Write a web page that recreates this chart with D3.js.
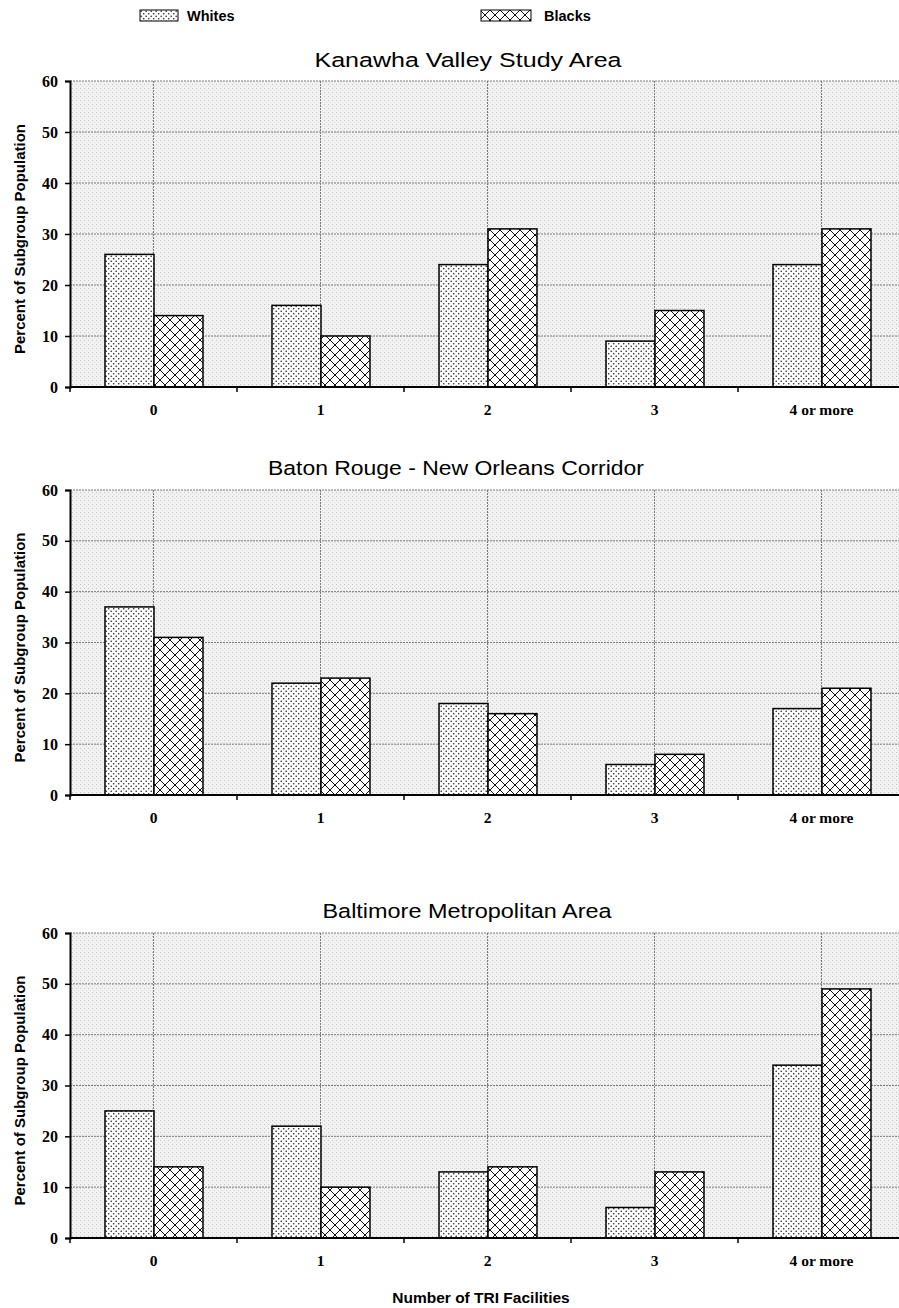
<!DOCTYPE html>
<html><head><meta charset="utf-8">
<script src="https://cdn.jsdelivr.net/npm/d3@7"></script>
<style>body{margin:0;background:#fff}svg{display:block}</style>
</head><body>
<script>
const categories = ["0","1","2","3","4 or more"];
const titles = ["Kanawha Valley Study Area","Baton Rouge - New Orleans Corridor","Baltimore Metropolitan Area"];
const whitesKanawha = [26,16,24,9,24];
const blacksKanawha = [14,10,31,15,31];
const whitesBaton = [37,22,18,6,17];
const blacksBaton = [31,23,16,8,21];
const whitesBaltimore = [25,22,13,6,34];
const blacksBaltimore = [14,10,14,13,49];
const yTicks = [0,10,20,30,40,50,60];
const seriesNames = ["Whites","Blacks"];

const panels = [
  {title: titles[0], w: whitesKanawha, b: blacksKanawha, top: 81, bottom: 387, titleY: 67, tx: 468, tl: 307},
  {title: titles[1], w: whitesBaton, b: blacksBaton, top: 490, bottom: 795, titleY: 475, tx: 456, tl: 376},
  {title: titles[2], w: whitesBaltimore, b: blacksBaltimore, top: 933, bottom: 1238, titleY: 918, tx: 467, tl: 289}
];

const W = 899, H = 1308;
const svg = d3.select("body").append("svg").attr("width", W).attr("height", H);
const defs = svg.append("defs");

const bg = defs.append("pattern").attr("id","bgp").attr("patternUnits","userSpaceOnUse").attr("width",4).attr("height",4);
bg.append("rect").attr("width",4).attr("height",4).attr("fill","#f2f2f2");
bg.append("rect").attr("x",0).attr("y",0).attr("width",1).attr("height",1).attr("fill","#c2c2c2");
bg.append("rect").attr("x",2).attr("y",2).attr("width",1).attr("height",1).attr("fill","#d8d8d8");

const pw = defs.append("pattern").attr("id","pw").attr("patternUnits","userSpaceOnUse").attr("width",5).attr("height",5);
pw.append("rect").attr("width",5).attr("height",5).attr("fill","#fff");
pw.append("circle").attr("cx",1.2).attr("cy",1.2).attr("r",0.8).attr("fill","#222");
pw.append("circle").attr("cx",3.7).attr("cy",3.7).attr("r",0.8).attr("fill","#222");

const pb = defs.append("pattern").attr("id","pb").attr("patternUnits","userSpaceOnUse").attr("width",10).attr("height",10);
pb.append("rect").attr("width",10).attr("height",10).attr("fill","#fff");
pb.append("path").attr("d","M0,0L10,10M10,0L0,10M-5,5L5,15M5,-5L15,5M5,15L15,5M-5,5L5,-5").attr("stroke","#111").attr("stroke-width",1);

const left = 70, right = 905;
const x = d3.scaleBand().domain(categories).range([left, right]).paddingInner(0).paddingOuter(0);
const inner = d3.scaleBand().domain(seriesNames).range([35, x.bandwidth()-34]);
const serif = "'Liberation Serif','Times New Roman',serif";
const sans = "'Liberation Sans',Arial,Helvetica,sans-serif";

panels.forEach(p => {
  const y = d3.scaleLinear().domain([0,60]).range([p.bottom, p.top]);
  const g = svg.append("g");
  g.append("rect").attr("x",left).attr("y",p.top).attr("width",W-left).attr("height",p.bottom-p.top).attr("fill","url(#bgp)");
  g.selectAll(".hg").data(yTicks.filter(t=>t>0)).join("line")
    .attr("x1",left).attr("x2",W).attr("y1",d=>y(d)).attr("y2",d=>y(d))
    .attr("stroke","#7a7a7a").attr("stroke-width",1).attr("stroke-dasharray","2,1");
  g.selectAll(".vg").data(categories).join("line")
    .attr("x1",d=>x(d)+x.bandwidth()/2).attr("x2",d=>x(d)+x.bandwidth()/2)
    .attr("y1",p.top).attr("y2",p.bottom)
    .attr("stroke","#7a7a7a").attr("stroke-width",1).attr("stroke-dasharray","2,1");
  const data = [];
  categories.forEach((c,i)=>{ data.push({c, s:"Whites", v:p.w[i]}); data.push({c, s:"Blacks", v:p.b[i]}); });
  g.selectAll(".bar").data(data).join("rect")
    .attr("x", d=>x(d.c)+inner(d.s)).attr("width", inner.bandwidth())
    .attr("y", d=>y(d.v)).attr("height", d=>y(0)-y(d.v))
    .attr("fill", d=> d.s==="Whites" ? "url(#pw)" : "url(#pb)")
    .attr("stroke","#000").attr("stroke-width",1.5);
  const ya = g.append("g").attr("transform",`translate(${left},0)`)
    .call(d3.axisLeft(y).tickValues(yTicks).tickSize(5).tickPadding(7));
  ya.select(".domain").attr("stroke","#000").attr("stroke-width",2);
  ya.selectAll(".tick line").attr("stroke","#000").attr("stroke-width",1.5);
  ya.selectAll("text").attr("font-family",serif).attr("font-weight","bold").attr("font-size",16).attr("fill","#000");
  const xa = g.append("g").attr("transform",`translate(0,${p.bottom})`);
  xa.append("line").attr("x1",left).attr("x2",W).attr("y1",0).attr("y2",0).attr("stroke","#000").attr("stroke-width",2);
  xa.selectAll(".xt").data(categories).join("line")
    .attr("x1",d=>x(d)).attr("x2",d=>x(d)).attr("y1",0).attr("y2",5).attr("stroke","#000").attr("stroke-width",1.5);
  xa.selectAll(".xl").data(categories).join("text")
    .attr("x",d=>x(d)+x.bandwidth()/2).attr("y",28).attr("text-anchor","middle")
    .attr("font-family",serif).attr("font-weight","bold").attr("font-size",15.5).text(d=>d);
  g.append("text").attr("x",p.tx).attr("y",p.titleY).attr("text-anchor","middle")
    .attr("font-family",sans).attr("font-size",20.5)
    .attr("textLength",p.tl).attr("lengthAdjust","spacingAndGlyphs").text(p.title);
  g.append("text").attr("transform",`translate(25,${(p.top+p.bottom)/2+5}) rotate(-90)`).attr("text-anchor","middle")
    .attr("font-family",sans).attr("font-weight","bold").attr("font-size",15).text("Percent of Subgroup Population");
});

const legend = [{n:"Whites", f:"url(#pw)", x:140, w:38, tx:187}, {n:"Blacks", f:"url(#pb)", x:481, w:50, tx:544}];
legend.forEach(l=>{
  svg.append("rect").attr("x",l.x).attr("y",10).attr("width",l.w).attr("height",11).attr("fill",l.f).attr("stroke","#000").attr("stroke-width",1);
  svg.append("text").attr("x",l.tx).attr("y",21).attr("font-family",sans).attr("font-weight","bold").attr("font-size",14.5).text(l.n);
});

svg.append("text").attr("x",481).attr("y",1303).attr("text-anchor","middle")
  .attr("font-family",sans).attr("font-weight","bold").attr("font-size",15.5).text("Number of TRI Facilities");
</script>
</body></html>
